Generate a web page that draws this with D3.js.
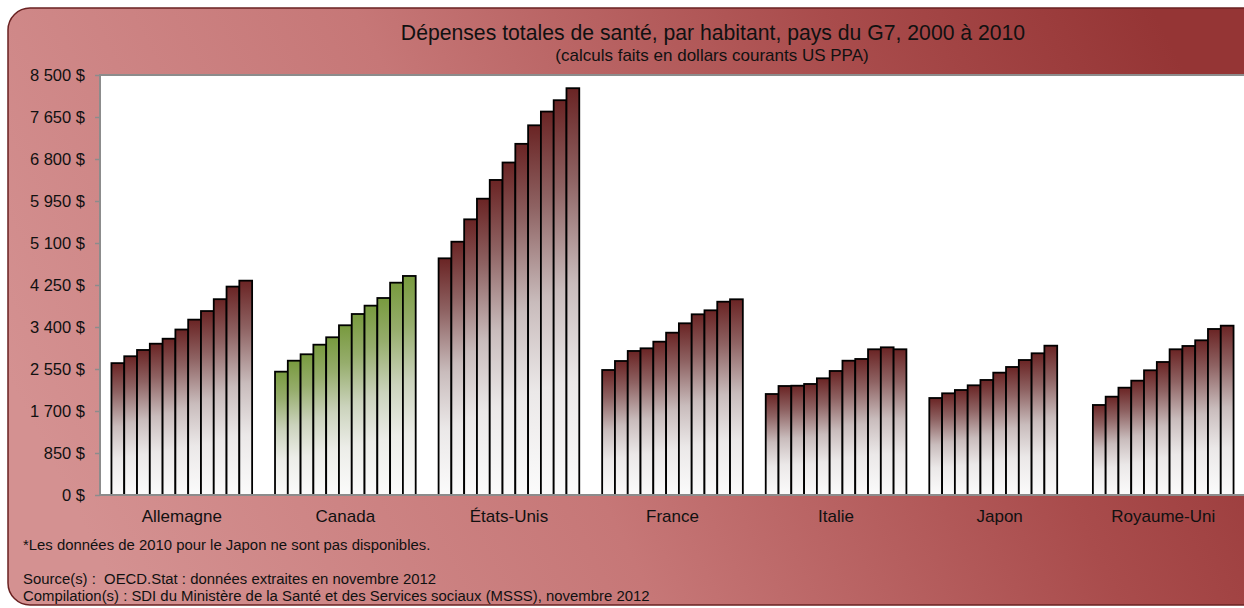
<!DOCTYPE html>
<html>
<head>
<meta charset="utf-8">
<script src="https://cdn.jsdelivr.net/npm/d3@7"></script>
<style>
  html, body { margin: 0; padding: 0; background: #ffffff; overflow: hidden; }
  svg { display: block; font-family: "Liberation Sans", Arial, sans-serif; }
</style>
</head>
<body>
<svg id="chart" width="1244" height="608"></svg>
<script>
// ---- data ----
const countries = ["Allemagne", "Canada", "États-Unis", "France", "Italie", "Japon", "Royaume-Uni"];
const years = ["2000","2001","2002","2003","2004","2005","2006","2007","2008","2009","2010"];
const allemagne = [2669, 2808, 2935, 3062, 3163, 3349, 3549, 3723, 3963, 4218, 4338];
const canada    = [2496, 2718, 2848, 3042, 3192, 3435, 3663, 3832, 3987, 4297, 4433];
const etatsUnis = [4790, 5126, 5579, 5997, 6376, 6729, 7107, 7482, 7760, 7990, 8233];
const france    = [2530, 2712, 2915, 2969, 3103, 3285, 3475, 3657, 3738, 3912, 3961];
const italie    = [2044, 2206, 2212, 2247, 2362, 2510, 2718, 2753, 2949, 2989, 2949];
const japon     = [1963, 2058, 2125, 2220, 2328, 2476, 2591, 2732, 2868, 3022, null];
const royaumeUni= [1822, 1990, 2172, 2314, 2524, 2692, 2949, 3016, 3131, 3360, 3427];
const seriesByCountry = [allemagne, canada, etatsUnis, france, italie, japon, royaumeUni];
const highlighted = "Canada";
const yTicks = [0, 850, 1700, 2550, 3400, 4250, 5100, 5950, 6800, 7650, 8500];
const titleText = "Dépenses totales de santé, par habitant, pays du G7, 2000 à 2010";
const subtitleText = "(calculs faits en dollars courants US PPA)";
const noteText = "*Les données de 2010 pour le Japon ne sont pas disponibles.";
const sourceText = "Source(s) :  OECD.Stat : données extraites en novembre 2012";
const compilationText = "Compilation(s) : SDI du Ministère de la Santé et des Services sociaux (MSSS), novembre 2012";

// ---- layout ----
const svg = d3.select("#chart");
const plot = { left: 100, top: 75, right: 1245, bottom: 495 };

const defs = svg.append("defs");
const bg = defs.append("linearGradient").attr("id", "bg")
  .attr("x1", "0").attr("y1", "0.62").attr("x2", "1").attr("y2", "0.38");
bg.append("stop").attr("offset", "0%").attr("stop-color", "#d49191");
bg.append("stop").attr("offset", "40%").attr("stop-color", "#c67777");
bg.append("stop").attr("offset", "75%").attr("stop-color", "#a94c4c");
bg.append("stop").attr("offset", "100%").attr("stop-color", "#953535");

function barGradient(id, stops) {
  const g = defs.append("linearGradient").attr("id", id)
    .attr("x1", "0").attr("y1", "0").attr("x2", "0").attr("y2", "1");
  stops.forEach(([o, c]) => g.append("stop").attr("offset", o).attr("stop-color", c));
}
barGradient("barBrown", [["0%", "#6a2424"], ["22%", "#8e6262"], ["48%", "#c9bcbc"], ["72%", "#ebe8e8"], ["100%", "#fbfbfb"]]);
barGradient("barGreen", [["0%", "#789a3e"], ["22%", "#96ad6c"], ["48%", "#cbd3bc"], ["72%", "#ecede8"], ["100%", "#fbfbfb"]]);

// outer frame
svg.append("rect")
  .attr("x", 8).attr("y", 8).attr("width", 1260).attr("height", 597)
  .attr("rx", 22).attr("ry", 22)
  .attr("fill", "url(#bg)")
  .attr("stroke", "#6a2222").attr("stroke-width", 1.5);

// plot background
svg.append("rect")
  .attr("x", plot.left).attr("y", plot.top)
  .attr("width", plot.right - plot.left).attr("height", plot.bottom - plot.top)
  .attr("fill", "#ffffff");

// scales
const x = d3.scaleBand().domain(countries).range([plot.left, plot.right])
  .paddingInner(0.14).paddingOuter(0.07);
const xi = d3.scaleBand().domain(years).range([0, x.bandwidth()]).padding(0);
const y = d3.scaleLinear().domain([0, 8500]).range([plot.bottom, plot.top]);

// bars
const groups = svg.append("g").selectAll("g").data(countries).join("g")
  .attr("transform", d => `translate(${x(d)},0)`);
groups.each(function(c, ci) {
  const vals = seriesByCountry[ci].map((v, i) => ({ year: years[i], v }))
    .filter(d => d.v != null);
  d3.select(this).selectAll("rect").data(vals).join("rect")
    .attr("x", d => xi(d.year))
    .attr("y", d => y(d.v))
    .attr("width", xi.bandwidth())
    .attr("height", d => y(0) - y(d.v))
    .attr("fill", c === highlighted ? "url(#barGreen)" : "url(#barBrown)")
    .attr("stroke", "#000000").attr("stroke-width", 1.8);
});

// axes
const yAxis = d3.axisLeft(y).tickValues(yTicks).tickSize(5).tickPadding(10)
  .tickFormat(d => d3.format(",")(d).replace(/,/g, " ") + " $");
const ya = svg.append("g").attr("transform", `translate(${plot.left},0)`).call(yAxis);
ya.select(".domain").remove();
ya.selectAll(".tick line").attr("stroke", "#8c8c8c").attr("stroke-width", 1.5);
ya.selectAll(".tick text").attr("fill", "#111").style("font-size", "16.5px")
  .style("font-family", "'Liberation Sans', Arial, sans-serif");

// plot border lines (top, left, bottom)
svg.append("path")
  .attr("d", `M${plot.right},${plot.top}H${plot.left}V${plot.bottom}H${plot.right}`)
  .attr("fill", "none").attr("stroke", "#8c8c8c").attr("stroke-width", 2);

const xAxis = d3.axisBottom(x).tickSize(0).tickPadding(0);
const xa = svg.append("g").attr("transform", `translate(0,${plot.bottom})`).call(xAxis);
xa.select(".domain").remove();
xa.selectAll(".tick text").attr("fill", "#111").attr("dy", null).attr("y", 27)
  .style("font-size", "17px").style("font-family", "'Liberation Sans', Arial, sans-serif");

// titles
svg.append("text").attr("x", 713).attr("y", 39.5).attr("text-anchor", "middle")
  .style("font-size", "21.2px").attr("fill", "#111").text(titleText);
svg.append("text").attr("x", 712).attr("y", 61).attr("text-anchor", "middle")
  .style("font-size", "17px").attr("fill", "#111").text(subtitleText);

// notes
const noteStyle = sel => sel.style("font-size", "14.9px").style("white-space", "pre")
  .attr("xml:space", "preserve").attr("fill", "#111");
svg.append("text").attr("x", 23).attr("y", 550).call(noteStyle).text(noteText);
svg.append("text").attr("x", 23).attr("y", 584).call(noteStyle).text(sourceText);
svg.append("text").attr("x", 23).attr("y", 600.5).call(noteStyle).text(compilationText);
</script>
</body>
</html>
